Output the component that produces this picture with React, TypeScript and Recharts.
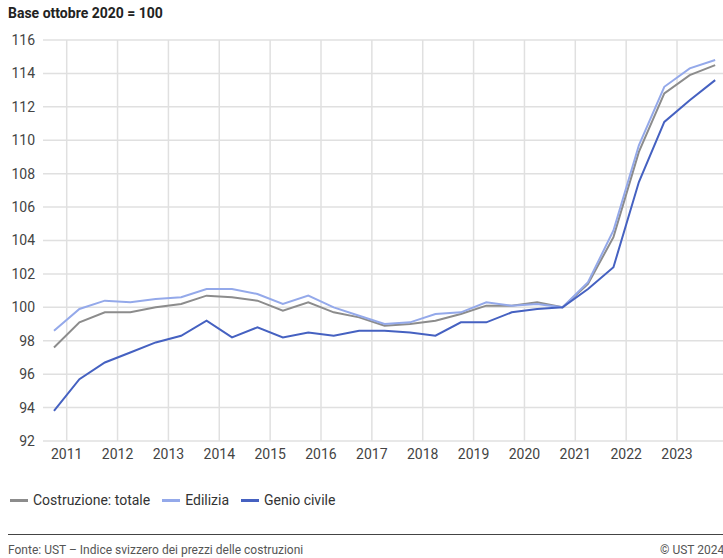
import { LineChart, Line, XAxis, YAxis, CartesianGrid } from 'recharts';

// half-yearly survey: April and October, expressed as fractional year
const periods = [
  2010.75, 2011.25, 2011.75, 2012.25, 2012.75, 2013.25, 2013.75, 2014.25, 2014.75,
  2015.25, 2015.75, 2016.25, 2016.75, 2017.25, 2017.75, 2018.25, 2018.75, 2019.25,
  2019.75, 2020.25, 2020.75, 2021.25, 2021.75, 2022.25, 2022.75, 2023.25, 2023.75,
];

const totale = [
  97.6, 99.1, 99.7, 99.7, 100.0, 100.2, 100.7, 100.6, 100.4, 99.8, 100.3, 99.7, 99.4, 98.9,
  99.0, 99.2, 99.6, 100.1, 100.1, 100.3, 100.0, 101.4, 104.2, 109.3, 112.8, 113.9, 114.5,
];

const edilizia = [
  98.6, 99.9, 100.4, 100.3, 100.5, 100.6, 101.1, 101.1, 100.8, 100.2, 100.7, 100.0, 99.5, 99.0,
  99.1, 99.6, 99.7, 100.3, 100.1, 100.2, 100.0, 101.5, 104.6, 109.7, 113.2, 114.3, 114.8,
];

const genioCivile = [
  93.8, 95.7, 96.7, 97.3, 97.9, 98.3, 99.2, 98.2, 98.8, 98.2, 98.5, 98.3, 98.6, 98.6,
  98.5, 98.3, 99.1, 99.1, 99.7, 99.9, 100.0, 101.1, 102.4, 107.5, 111.1, 112.4, 113.6,
];

const yearTicks = [2011, 2012, 2013, 2014, 2015, 2016, 2017, 2018, 2019, 2020, 2021, 2022, 2023];
const valueTicks = [92, 94, 96, 98, 100, 102, 104, 106, 108, 110, 112, 114, 116];

const series = [
  { key: 'totale', name: 'Costruzione: totale', color: '#8c8c8c' },
  { key: 'edilizia', name: 'Edilizia', color: '#94a9ea' },
  { key: 'genio', name: 'Genio civile', color: '#4561c1' },
];

const data = periods.map((t, i) => ({
  t,
  totale: totale[i],
  edilizia: edilizia[i],
  genio: genioCivile[i],
}));

const font = 'Roboto, "Noto Sans", sans-serif';

export default function App() {
  return (
    <div
      style={{
        position: 'fixed',
        left: 0,
        top: 0,
        width: 723,
        height: 558,
        overflow: 'hidden',
        background: '#fff',
        fontFamily: font,
      }}
    >
      <div
        style={{
          position: 'absolute',
          left: 8,
          top: 5,
          fontSize: 14,
          fontWeight: 700,
          color: '#222',
        }}
      >
        Base ottobre 2020 = 100
      </div>

      <div style={{ position: 'absolute', left: 0, top: 0 }}>
        <LineChart width={723} height={471} data={data} margin={{ top: 40, right: 0, left: 0, bottom: 0 }}>
          <CartesianGrid stroke="#e0e0e0" strokeWidth={1.5} verticalValues={yearTicks} />
          <XAxis
            dataKey="t"
            type="number"
            domain={[2010.534, 2023.904]}
            ticks={yearTicks}
            allowDataOverflow
            axisLine={false}
            tickLine={false}
            tick={{ fill: '#444', fontSize: 14, fontFamily: font }}
            height={30}
          />
          <YAxis
            type="number"
            domain={[92, 116]}
            ticks={valueTicks}
            axisLine={false}
            tickLine={false}
            width={43}
            tick={{ fill: '#444', fontSize: 14, fontFamily: font }}
          />
          {series.map((s) => (
            <Line
              key={s.key}
              dataKey={s.key}
              name={s.name}
              stroke={s.color}
              strokeWidth={2}
              dot={false}
              activeDot={false}
              type="linear"
              isAnimationActive={false}
            />
          ))}
        </LineChart>
      </div>

      <div
        style={{
          position: 'absolute',
          left: 10,
          top: 492,
          display: 'flex',
          alignItems: 'center',
          fontSize: 14,
          color: '#333',
        }}
      >
        {series.map((s) => (
          <div key={s.key} style={{ display: 'flex', alignItems: 'center', marginRight: 12 }}>
            <span
              style={{
                display: 'inline-block',
                width: 18,
                height: 3,
                background: s.color,
                marginRight: 5,
              }}
            />
            <span>{s.name}</span>
          </div>
        ))}
      </div>

      <div
        style={{
          position: 'absolute',
          left: 8,
          top: 534,
          width: 715,
          height: 1,
          background: '#444',
        }}
      />

      <div style={{ position: 'absolute', left: 8, top: 543, fontSize: 12, color: '#555' }}>
        Fonte: UST – Indice svizzero dei prezzi delle costruzioni
      </div>
      <div
        style={{
          position: 'absolute',
          left: 660,
          top: 543,
          fontSize: 12,
          color: '#555',
          whiteSpace: 'nowrap',
        }}
      >
        © UST 2024
      </div>
    </div>
  );
}
